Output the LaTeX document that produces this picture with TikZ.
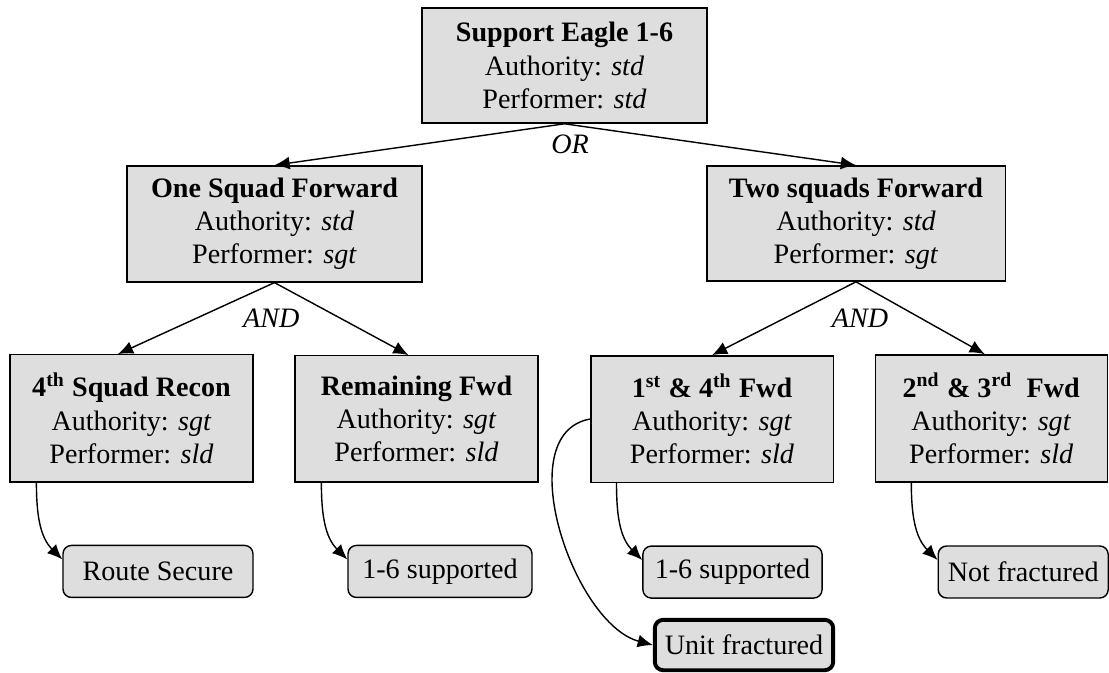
\documentclass[tikz,border=0pt]{standalone}
\usepackage{fontspec}
\setmainfont{Liberation Serif}
\usepackage{tikz}
\usetikzlibrary{shapes,arrows,arrows.meta}
\tikzstyle{taskbox} = [draw, line width=0.5pt, fill=black!13, align=center, inner sep=1pt, font=\fontsize{10}{11.8}\selectfont]
\tikzstyle{outcome} = [draw, line width=0.5pt, fill=black!13, rounded corners=3pt, minimum height=0.65cm, inner sep=1pt, font=\fontsize{10}{11.8}\selectfont]
\tikzstyle{failure} = [outcome, line width=1.4pt, minimum height=0.63cm]
\tikzstyle{gate} = [font=\fontsize{10}{11.8}\selectfont\itshape, inner sep=0pt]

\begin{document}
\begin{tikzpicture}[auto, >={Latex[length=5.4pt,width=4.6pt]}, line width=0.5pt]
		\useasboundingbox (0,0) rectangle (13.8625,-8.4125);
		\node [taskbox, minimum width=3.56cm, minimum height=1.44cm] (root) at (7.056,-0.819) {\textbf{Support Eagle 1-6}\\Authority: \textit{std}\\Performer: \textit{std}};
		\node [gate, below of=root, node distance=0.99cm, xshift=0.07cm] (or) {OR};
		
		\node [taskbox, minimum width=3.69cm, minimum height=1.45cm, below of=root, node distance=1.98cm, xshift=-3.625cm] (sq1) {\textbf{One Squad Forward}\\Authority: \textit{std}\\Performer: \textit{sgt}};
		\node [taskbox, minimum width=3.73cm, minimum height=1.44cm, below of=root, node distance=1.975cm, xshift=3.644cm] (sq2) {\textbf{Two squads Forward}\\Authority: \textit{std}\\Performer: \textit{sgt}};
		\node [gate, below of=sq1, node distance=1.18cm, xshift=-0.04cm] (and1) {AND};
		\node [gate, below of=sq2, node distance=1.18cm, xshift=0.05cm] (and2) {AND};
		
		\node [taskbox, minimum width=3.04cm, minimum height=1.59cm, below of=sq1, node distance=2.431cm, xshift=-1.787cm] (recon) {\textbf{4\textsuperscript{th} Squad Recon}\\Authority: \textit{sgt}\\Performer: \textit{sld}};
		\node [taskbox, minimum width=3.04cm, minimum height=1.58cm, below of=sq1, node distance=2.438cm, xshift=1.775cm] (remain) {\textbf{Remaining Fwd}\\Authority: \textit{sgt}\\Performer: \textit{sld}};
		\node [taskbox, minimum width=3.03cm, minimum height=1.58cm, below of=sq2, node distance=2.444cm, xshift=-1.8cm] (fwd14) {\textbf{1\textsuperscript{st} \& 4\textsuperscript{th} Fwd}\\Authority: \textit{sgt}\\Performer: \textit{sld}};
		\node [taskbox, minimum width=2.9cm, minimum height=1.59cm, below of=sq2, node distance=2.437cm, xshift=1.69cm] (fwd23) {\textbf{2\textsuperscript{nd} \& 3\textsuperscript{rd}~ Fwd}\\Authority: \textit{sgt}\\Performer: \textit{sld}};
		
		\node [outcome, minimum width=2.375cm, below of=recon, node distance=1.913cm, xshift=0.331cm] (rs) {Route Secure};
		\node [outcome, minimum width=2.3cm, below of=remain, node distance=1.906cm, xshift=0.294cm] (sup1) {1-6 supported};
		\node [outcome, minimum width=2.24cm, below of=fwd14, node distance=1.913cm, xshift=0.256cm] (sup2) {1-6 supported};
		\node [outcome, minimum width=2.125cm, below of=fwd23, node distance=1.919cm, xshift=0.4cm] (nf) {Not fractured};
		\node [failure, minimum width=2.23cm, below of=fwd14, node distance=2.825cm, xshift=0.4cm] (uf) {Unit fractured};
		
		\draw [->] (root.south) -- (sq1.north);
		\draw [->] (root.south) -- (sq2.north);
		\draw [->] (sq1.south) -- ([xshift=-0.17cm]recon.north);
		\draw [->] (sq1.south) -- ([xshift=-0.1cm]remain.north);
		\draw [->] (sq2.south) -- (fwd14.north);
		\draw [->] (sq2.south) -- ([xshift=-0.08cm]fwd23.north);
		
		\draw [->] ([xshift=0.34cm]recon.south west) to[out=-90, in=135] ([yshift=0.15cm]rs.west);
		\draw [->] ([xshift=0.34cm]remain.south west) to[out=-90, in=135] ([yshift=0.15cm]sup1.west);
		\draw [->] ([xshift=0.33cm]fwd14.south west) to[out=-90, in=135] ([yshift=0.15cm]sup2.west);
		\draw [->] ([xshift=0.46cm]fwd23.south west) to[out=-90, in=135] ([yshift=0.15cm]nf.west);
		\draw [->] (fwd14.west) to[out=190, in=165, looseness=0.9] (uf.west);
		
		\end{tikzpicture}
\end{document}
